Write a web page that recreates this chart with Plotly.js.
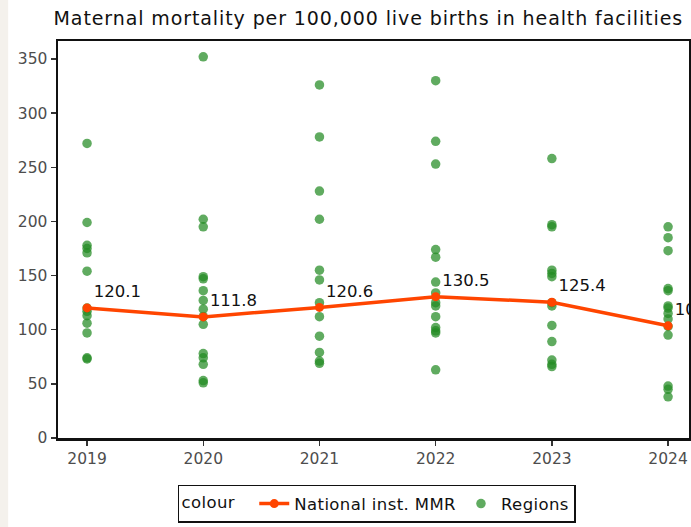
<!DOCTYPE html>
<html>
<head>
<meta charset="utf-8">
<script src="https://cdn.plot.ly/plotly-3.0.1.min.js"></script>
<style>
  html, body { margin: 0; padding: 0; background: #ffffff; overflow: hidden; }
  #chart { width: 691px; height: 527px; }
  /* the reference looks slightly stretched sideways */
  .gtitle { letter-spacing: 0.9px; }
  .legendtext, .legendtitletext { letter-spacing: 0.4px; }
</style>
</head>
<body>
<div id="chart"></div>
<script>
// National institutional MMR per year
const years = [2019, 2020, 2021, 2022, 2023, 2024];
const national = [120.1, 111.8, 120.6, 130.5, 125.4, 103.6];

// Regional values (one array per year)
const regions2019 = [272, 199, 178, 175, 171, 154, 120, 117, 113, 106, 97, 74, 73];
const regions2020 = [352, 202, 195, 149, 147, 136, 127, 119, 112, 105, 78, 74, 68, 53, 51];
const regions2021 = [326, 278, 228, 202, 155, 146, 125, 112, 94, 79, 71, 69];
const regions2022 = [330, 274, 253, 174, 167, 144, 134, 125, 122, 112, 102, 99, 97, 63];
const regions2023 = [258, 197, 195, 155, 152, 149, 125, 122, 104, 89, 72, 68, 66];
const regions2024 = [195, 185, 173, 138, 136, 122, 120, 115, 110, 103, 95, 48, 45, 38];

const regionsByYear = [regions2019, regions2020, regions2021, regions2022, regions2023, regions2024];

const regX = [];
const regY = [];
regionsByYear.forEach((vals, i) => {
  vals.forEach(v => { regX.push(years[i]); regY.push(v); });
});

const font = "DejaVu Sans, Liberation Sans, Arial, sans-serif";

const regionTrace = {
  x: regX,
  y: regY,
  type: "scatter",
  mode: "markers",
  name: "Regions",
  legendrank: 2,
  marker: { color: "rgba(34,139,34,0.72)", size: 9.5 }
};

const nationalTrace = {
  x: years,
  y: national,
  type: "scatter",
  mode: "lines+markers+text",
  name: "National inst. MMR",
  legendrank: 1,
  line: { color: "#ff4500", width: 3.5 },
  marker: { color: "#ff4500", size: 9 },
  text: national.map(v => v.toFixed(1)),
  textposition: "top right",
  textfont: { family: font, size: 16.5, color: "#111111" }
};

const layout = {
  width: 691,
  height: 527,
  margin: { l: 58, r: 2, t: 41, b: 89 },
  paper_bgcolor: "#ffffff",
  plot_bgcolor: "#ffffff",
  font: { family: font, color: "#000000" },
  title: {
    text: "Maternal mortality per 100,000 live births in health facilities",
    font: { family: font, size: 19, color: "#111111" },
    x: 0.533,
    xanchor: "center",
    y: 0.966,
    yanchor: "middle"
  },
  xaxis: {
    range: [2018.75, 2024.18],
    tickvals: years,
    ticktext: years.map(String),
    ticks: "outside",
    ticklen: 5,
    tickwidth: 1.5,
    tickcolor: "#333333",
    tickfont: { family: font, size: 15.5, color: "#4d4d4d" },
    showgrid: false,
    zeroline: false,
    showline: true,
    linecolor: "#111111",
    linewidth: 2.5,
    mirror: true
  },
  yaxis: {
    range: [0, 366.6],
    tickvals: [0, 50, 100, 150, 200, 250, 300, 350],
    ticks: "outside",
    ticklen: 5,
    tickwidth: 1.5,
    tickcolor: "#333333",
    tickfont: { family: font, size: 15.5, color: "#4d4d4d" },
    showgrid: false,
    zeroline: false,
    showline: true,
    linecolor: "#111111",
    linewidth: 2.5,
    mirror: true
  },
  showlegend: true,
  legend: {
    orientation: "h",
    x: 0.5055,
    xanchor: "center",
    y: -0.118,
    yanchor: "top",
    bordercolor: "#111111",
    borderwidth: 1.5,
    bgcolor: "#ffffff",
    font: { family: font, size: 16.5, color: "#111111" },
    title: { text: "colour  ", side: "left", font: { family: font, size: 16.5, color: "#111111" } },
    itemwidth: 30
  },
  shapes: [
    {
      type: "rect", xref: "paper", yref: "paper", layer: "below",
      x0: -0.092, x1: -0.079, y0: -0.23, y1: 1.11,
      fillcolor: "#f4f1ec", line: { width: 0 }
    }
  ]
};

Plotly.newPlot("chart", [regionTrace, nationalTrace], layout, { displayModeBar: false, staticPlot: true });
</script>
</body>
</html>
